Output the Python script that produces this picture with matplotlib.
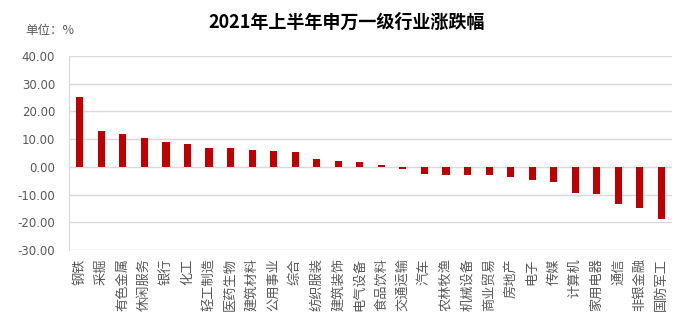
import matplotlib.pyplot as plt
import numpy as np

plt.rcParams['font.family'] = ['Noto Sans CJK SC', 'DejaVu Sans']

industries = ['钢铁', '采掘', '有色金属', '休闲服务', '银行', '化工', '轻工制造', '医药生物',
              '建筑材料', '公用事业', '综合', '纺织服装', '建筑装饰', '电气设备', '食品饮料',
              '交通运输', '汽车', '农林牧渔', '机械设备', '商业贸易', '房地产', '电子', '传媒',
              '计算机', '家用电器', '通信', '非银金融', '国防军工']
change = [25.2, 13.0, 11.9, 10.5, 9.0, 8.3, 6.8, 6.8, 6.1, 5.8, 5.4, 2.9, 2.2, 1.8, 0.5,
          -0.9, -2.4, -2.9, -2.9, -2.9, -3.5, -4.7, -5.6, -9.4, -9.7, -13.3, -14.8, -18.7]
yticks = [-30, -20, -10, 0, 10, 20, 30, 40]

fig = plt.figure(figsize=(6.93, 3.25), dpi=100)
ax = fig.add_axes([0.0996, 0.2308, 0.8704, 0.5969])

x = np.arange(len(industries))
ax.bar(x, change, width=0.33, color='#C00000', zorder=3)

ax.set_xlim(-0.5, len(industries) - 0.5)
ax.set_ylim(-30, 40)
ax.set_yticks(yticks)
ax.set_yticklabels(['%.2f' % v for v in yticks], family='DejaVu Sans', fontsize=8.5, color='#595959')
ax.set_xticks(x)
ax.set_xticklabels(industries, rotation=90, ha='center', va='top', fontsize=9.5, color='#595959')
ax.tick_params(axis='both', length=0)
ax.tick_params(axis='y', pad=10)
ax.tick_params(axis='x', pad=6)

ax.grid(axis='y', color='#D9D9D9', linewidth=1, zorder=0)
for s in ['top', 'right', 'bottom']:
    ax.spines[s].set_visible(False)
ax.spines['left'].set_color('#D9D9D9')

fig.text(0.5, 0.93, '2021年上半年申万一级行业涨跌幅', ha='center', va='center',
         fontsize=13, fontweight='bold', color='black')
fig.text(0.036, 0.905, '单位：%', ha='left', va='center', fontsize=9, color='#595959')

fig.savefig('out.png', dpi=100)
